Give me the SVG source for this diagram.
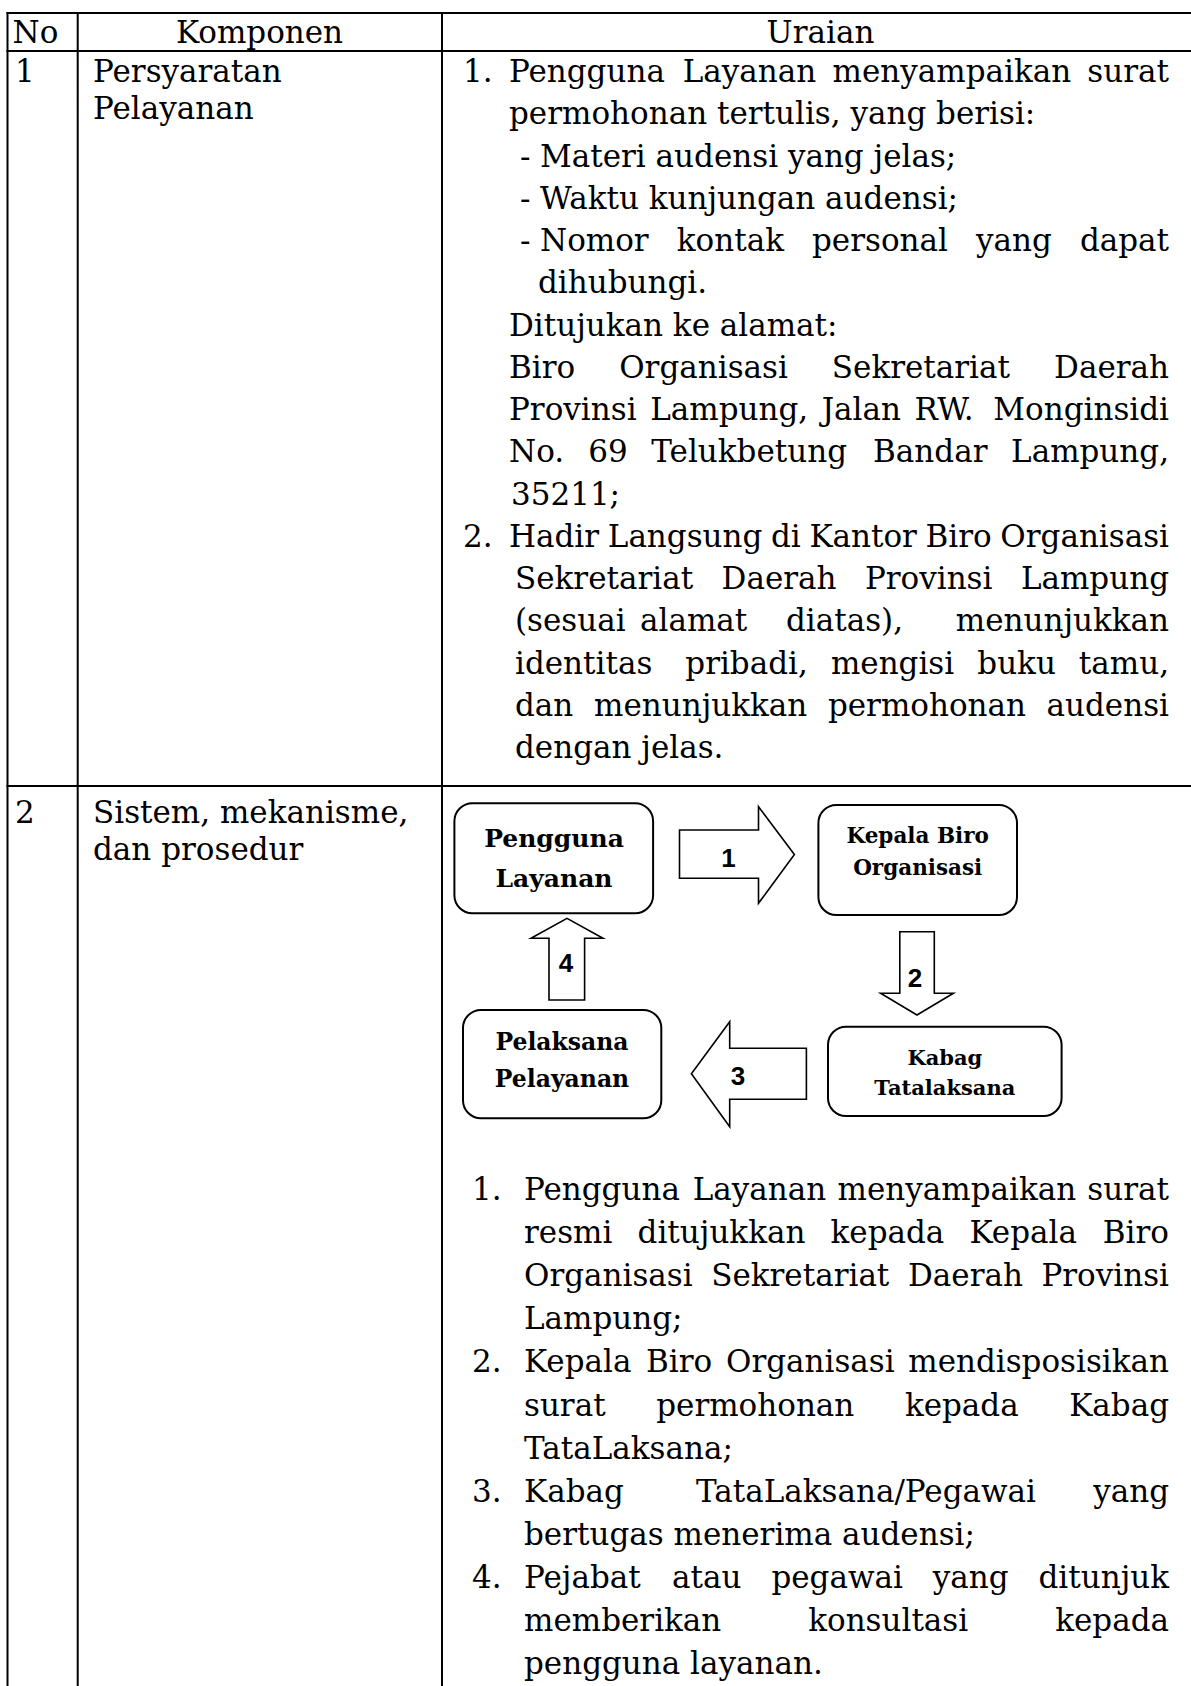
<svg xmlns="http://www.w3.org/2000/svg" width="1191" height="1686" viewBox="0 0 1191 1686">
  <style>
    .t { font-family: "DejaVu Serif", "Liberation Serif", serif; font-size: 31px; fill: #000; }
    .e { text-anchor: end; }
    .m { text-anchor: middle; }
    .ln { stroke: #000; stroke-width: 2; fill: none; }
    .box { fill: #fff; stroke: #000; stroke-width: 2; }
    .nb { font-family: "DejaVu Serif", "Liberation Serif", serif; font-weight: bold; fill: #000; text-anchor: middle; }
    .arr { fill: #fff; stroke: #000; stroke-width: 1.6; stroke-linejoin: miter; }
    .num { font-family: "Liberation Sans", Arial, sans-serif; font-weight: bold; font-size: 26px; fill: #000; text-anchor: middle; }
  </style>

  <rect width="1191" height="1686" fill="#fff"/>

  <!-- table grid -->
  <g id="grid" class="ln">
    <line x1="6.5" y1="13" x2="1191" y2="13"/>
    <line x1="6.5" y1="51" x2="1191" y2="51"/>
    <line x1="6.5" y1="786" x2="1191" y2="786"/>
    <line x1="7.5" y1="12" x2="7.5" y2="1686"/>
    <line x1="77.7" y1="12" x2="77.7" y2="1686"/>
    <line x1="442" y1="12" x2="442" y2="1686"/>
  </g>

  <!-- header -->
  <g id="header" class="t">
    <text x="12.6" y="43">No</text>
    <text class="m" x="259.5" y="43">Komponen</text>
    <text class="m" x="820.5" y="43">Uraian</text>
  </g>

  <!-- row 1 -->
  <g id="row1" class="t">
    <text x="15" y="82">1</text>
    <text x="93" y="82">Persyaratan</text>
    <text x="93" y="119">Pelayanan</text>

    <text x="463" y="82">1.</text>
    <text y="82"><tspan x="509">Pengguna</tspan><tspan x="682.7">Layanan</tspan><tspan x="832.6">menyampaikan</tspan></text>
    <text class="e" x="1169" y="82">surat</text>
    <text x="509" y="124.25">permohonan tertulis, yang berisi:</text>
    <text x="520" y="166.5">-</text>
    <text x="540" y="166.5">Materi audensi yang jelas;</text>
    <text x="520" y="208.75">-</text>
    <text x="540" y="208.75">Waktu kunjungan audensi;</text>
    <text x="520" y="251">-</text>
    <text y="251"><tspan x="540">Nomor</tspan><tspan x="676.8">kontak</tspan><tspan x="812">personal</tspan><tspan x="976">yang</tspan></text>
    <text class="e" x="1169" y="251">dapat</text>
    <text x="538" y="293.25">dihubungi.</text>
    <text x="509" y="335.5">Ditujukan ke alamat:</text>
    <text y="377.75"><tspan x="509">Biro</tspan><tspan x="619.2">Organisasi</tspan><tspan x="831.8">Sekretariat</tspan></text>
    <text class="e" x="1169" y="377.75">Daerah</text>
    <text y="420"><tspan x="509">Provinsi</tspan><tspan x="650.2">Lampung,</tspan><tspan x="821.7">Jalan</tspan><tspan x="914.6">RW.</tspan></text>
    <text class="e" x="1169" y="420">Monginsidi</text>
    <text y="462.25"><tspan x="509">No.</tspan><tspan x="588.3">69</tspan><tspan x="651.3">Telukbetung</tspan><tspan x="873.1">Bandar</tspan></text>
    <text class="e" x="1169" y="462.25">Lampung,</text>
    <text x="511" y="504.5">35211;</text>

    <text x="463" y="546.75">2.</text>
    <text y="546.75"><tspan x="509">Hadir</tspan><tspan x="607.8">Langsung</tspan><tspan x="770.9">di</tspan><tspan x="809.4">Kantor</tspan><tspan x="925.6">Biro</tspan></text>
    <text class="e" x="1169" y="546.75">Organisasi</text>
    <text y="589"><tspan x="515">Sekretariat</tspan><tspan x="721.6">Daerah</tspan><tspan x="864.9">Provinsi</tspan></text>
    <text class="e" x="1169" y="589">Lampung</text>
    <text y="631.25"><tspan x="515">(sesuai</tspan><tspan x="640">alamat</tspan><tspan x="786">diatas),</tspan></text>
    <text class="e" x="1169" y="631.25">menunjukkan</text>
    <text y="673.5"><tspan x="515">identitas</tspan><tspan x="685.3">pribadi,</tspan><tspan x="830.9">mengisi</tspan><tspan x="977.3">buku</tspan></text>
    <text class="e" x="1169" y="673.5">tamu,</text>
    <text y="715.75"><tspan x="515">dan</tspan><tspan x="594">menunjukkan</tspan><tspan x="827.9">permohonan</tspan></text>
    <text class="e" x="1169" y="715.75">audensi</text>
    <text x="515" y="758">dengan jelas.</text>
  </g>

  <!-- row 2 -->
  <g id="row2" class="t">
    <text x="15" y="823">2</text>
    <text x="93" y="823">Sistem, mekanisme,</text>
    <text x="93" y="860">dan prosedur</text>
  </g>

  <!-- flow nodes -->
  <g id="node-pengguna">
    <rect class="box" x="454.4" y="803.3" width="198.7" height="110" rx="18"/>
    <text class="nb" font-size="25" x="554" y="847">Pengguna</text>
    <text class="nb" font-size="25" x="554" y="887">Layanan</text>
  </g>
  <g id="node-kepala">
    <rect class="box" x="818.4" y="805" width="198.6" height="110" rx="18"/>
    <text class="nb" font-size="21.5" x="917.7" y="842.7">Kepala Biro</text>
    <text class="nb" font-size="21.5" x="917.7" y="875">Organisasi</text>
  </g>
  <g id="node-kabag">
    <rect class="box" x="828" y="1026.7" width="233.6" height="89.3" rx="18"/>
    <text class="nb" font-size="21" x="944.8" y="1065">Kabag</text>
    <text class="nb" font-size="21" x="944.8" y="1095">Tatalaksana</text>
  </g>
  <g id="node-pelaksana">
    <rect class="box" x="463" y="1010" width="198.3" height="108.3" rx="18"/>
    <text class="nb" font-size="23.5" x="562" y="1050">Pelaksana</text>
    <text class="nb" font-size="23.5" x="562" y="1086.7">Pelayanan</text>
  </g>

  <!-- connectors: block arrows with step numbers -->
  <g id="connectors">
    <polygon class="arr" points="679.5,830 758.5,830 758.5,806.7 794.4,854.5 758.5,903.3 758.5,878.3 679.5,878.3"/>
    <text class="num" x="728.6" y="867">1</text>
    <polygon class="arr" points="899.8,931.7 934.3,931.7 934.3,993.3 953.4,993.3 917,1015 880.6,993.3 899.8,993.3"/>
    <text class="num" x="915" y="986.7">2</text>
    <polygon class="arr" points="806.4,1048.3 806.4,1099.3 729.7,1099.3 729.7,1126.7 691.4,1073.8 729.7,1021.7 729.7,1048.3"/>
    <text class="num" x="738" y="1085">3</text>
    <polygon class="arr" points="549,1000 549,938.3 531,938.3 567,918.3 603,938.3 584.6,938.3 584.6,1000"/>
    <text class="num" x="566" y="971.7">4</text>
  </g>

  <!-- procedure list -->
  <g id="steps" class="t">
    <text x="472" y="1200">1.</text>
    <text y="1200"><tspan x="524">Pengguna</tspan><tspan x="692.7">Layanan</tspan><tspan x="837.6">menyampaikan</tspan></text>
    <text class="e" x="1169" y="1200">surat</text>
    <text y="1243.1"><tspan x="524">resmi</tspan><tspan x="637.6">ditujukkan</tspan><tspan x="830.5">kepada</tspan><tspan x="969.5">Kepala</tspan></text>
    <text class="e" x="1169" y="1243.1">Biro</text>
    <text y="1286.2"><tspan x="524">Organisasi</tspan><tspan x="711.2">Sekretariat</tspan><tspan x="908">Daerah</tspan></text>
    <text class="e" x="1169" y="1286.2">Provinsi</text>
    <text x="524" y="1329.3">Lampung;</text>

    <text x="472" y="1372.4">2.</text>
    <text y="1372.4"><tspan x="524">Kepala</tspan><tspan x="646">Biro</tspan><tspan x="726">Organisasi</tspan></text>
    <text class="e" x="1169" y="1372.4">mendisposisikan</text>
    <text y="1415.5"><tspan x="524">surat</tspan><tspan x="656.2">permohonan</tspan><tspan x="904.9">kepada</tspan></text>
    <text class="e" x="1169" y="1415.5">Kabag</text>
    <text x="524" y="1458.6">TataLaksana;</text>

    <text x="472" y="1501.7">3.</text>
    <text y="1501.7"><tspan x="524">Kabag</tspan><tspan x="696">TataLaksana/Pegawai</tspan></text>
    <text class="e" x="1169" y="1501.7">yang</text>
    <text x="524" y="1544.8">bertugas menerima audensi;</text>

    <text x="472" y="1587.9">4.</text>
    <text y="1587.9"><tspan x="524">Pejabat</tspan><tspan x="672">atau</tspan><tspan x="771.4">pegawai</tspan><tspan x="932.7">yang</tspan></text>
    <text class="e" x="1169" y="1587.9">ditunjuk</text>
    <text y="1631"><tspan x="524">memberikan</tspan><tspan x="808.2">konsultasi</tspan></text>
    <text class="e" x="1169" y="1631">kepada</text>
    <text x="524" y="1674.1">pengguna layanan.</text>
  </g>
</svg>
